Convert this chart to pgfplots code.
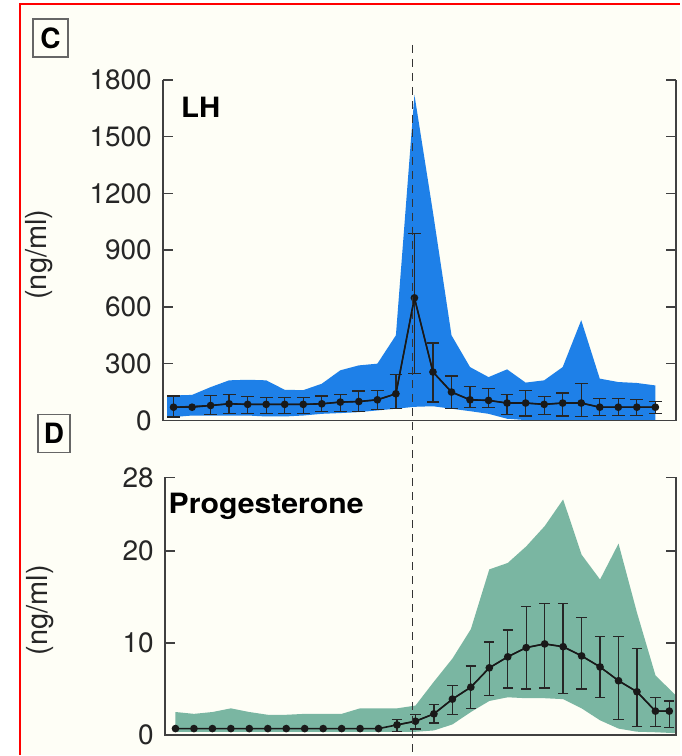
\documentclass[border=0pt]{standalone}
\usepackage{fontspec}
\setmainfont{TeX Gyre Heros}
\usepackage{pgfplots}
\pgfplotsset{compat=1.18}
\usepackage{pgfplotstable}

\definecolor{lhblue}{RGB}{30,128,232}
\definecolor{pgreen}{RGB}{122,182,162}
\definecolor{bg}{RGB}{254,254,246}

\pgfplotstableread{
x y
0 70
1 70
2 79
3 88
4 85
5 85
6 85
7 85
8 88
9 97
10 100
11 109
12 141
13 648
14 256
15 150
16 109
17 106
18 92
19 92
20 85
21 92
22 92
23 70
24 70
25 70
26 70
}\lhmean

\pgfplotstableread{
x y ep em
0 70 59 52
2 79 53 47
3 88 48 53
4 85 42 50
5 85 35 50
6 85 35 50
7 85 35 50
8 88 41 39
9 97 39 48
10 100 55 51
11 109 50 51
12 141 102 79
13 648 340 401
14 256 153 159
15 150 85 88
16 109 71 42
17 106 62 39
18 92 44 60
19 92 67 69
20 85 42 53
21 92 53 69
22 92 102 71
23 70 45 44
24 70 45 44
25 70 40 44
26 70 30 35
}\lherr

% band outline: upper edge left to right, then lower edge right to left
\pgfplotstableread{
x y
-0.35 132
0 132
1 135
2 176
3 212
4 215
5 212
6 162
7 160
8 194
9 265
10 291
11 300
12 450
13 1721
14 1100
15 450
16 282
17 229
18 270
19 200
20 212
21 282
22 530
23 221
24 203
25 198
26 185
26 2
25 2
24 2
23 2
22 2
21 2
20 2
19 2
18 9
17 35
16 49
15 62
14 75
13 72
12 62
11 53
10 44
9 39
8 35
7 26
6 21
5 21
4 26
3 26
2 26
1 26
0 18
-0.35 18
}\lhband

\pgfplotstableread{
x y
0 0.7
1 0.7
2 0.7
3 0.7
4 0.7
5 0.7
6 0.7
7 0.7
8 0.7
9 0.7
10 0.7
11 0.7
12 1.1
13 1.5
14 2.3
15 3.9
16 5.2
17 7.3
18 8.5
19 9.5
20 9.9
21 9.6
22 8.6
23 7.4
24 5.9
25 4.7
26 2.6
26.75 2.6
}\pmean

\pgfplotstableread{
x y ep em
12 1.1 0.6 0.7
13 1.5 0.7 0.85
14 2.3 1.0 1.0
15 3.9 1.5 1.7
16 5.2 2.3 2.3
17 7.3 2.8 3.0
18 8.5 2.9 3.4
19 9.5 4.5 4.5
20 9.9 4.4 4.8
21 9.6 4.7 5.1
22 8.6 4.2 3.6
23 7.4 3.3 3.3
24 5.9 4.8 4.2
25 4.7 4.7 3.8
26 2.6 1.5 1.7
26.75 2.6 1.1 1.8
}\perr

\pgfplotstableread{
x y
0 2.5
1 2.3
2 2.5
3 2.9
4 2.5
5 2.2
6 2.2
7 2.3
8 2.3
9 2.3
10 2.9
11 2.9
12 2.9
13 3.2
14 5.8
15 8.3
16 11.5
17 18.0
18 18.7
19 20.5
20 22.7
21 25.6
22 19.6
23 16.9
24 20.8
25 13.3
26 6.5
27.1 4.3
27.1 0.2
26 0.3
25 0.36
24 0.7
23 1.6
22 2.9
21 3.9
20 4.0
19 4.0
18 4.1
17 3.7
16 2.5
15 1.15
14 0.5
13 0.35
12 0.35
11 0.35
10 0.35
9 0.35
8 0.35
7 0.35
6 0.35
5 0.35
4 0.35
3 0.35
2 0.35
1 0.35
0 0.35
}\pband

\pgfplotsset{
  panel/.style={
    scale only axis,
    axis line style={draw=none},
    clip=false,
    xtick=\empty,
    major tick length=0pt,
    yticklabel style={font=\fontsize{14}{16}\selectfont, text=black!85, xshift=-2pt},
    /pgf/number format/assume math mode=true,
    /pgf/number format/1000 sep={},
    xmin=-0.58, xmax=27.12,
    error bars/error mark=-,
  },
  spineplot/.style={black!75, line width=0.75pt, mark=none, forget plot},
}

\begin{document}
\begin{tikzpicture}
\fill[bg] (0,0) rectangle (340.5pt,378pt);
\fill[white] (0,0) rectangle (10pt,378pt);
\fill[white] (0,376pt) rectangle (340.5pt,378pt);

% ---------- top panel (LH) ----------
\begin{axis}[panel,
  at={(81.5pt,167.5pt)}, anchor=south west,
  width=257pt, height=170.5pt,
  ymin=0, ymax=1800,
  ytick={0,300,600,900,1200,1500,1800},
]
\addplot[fill=lhblue, draw=none] table[x=x,y=y] {\lhband} -- cycle;
\addplot[black!85, line width=0.65pt, mark=none,
  error bars/.cd, y dir=both, y explicit,
  error bar style={line width=0.65pt},
  error mark options={line width=0.65pt, mark size=3.2pt, rotate=90}]
  table[x=x,y=y,y error plus=ep,y error minus=em] {\lherr};
\addplot[black!90, line width=0.8pt, mark=*, mark size=1.5pt,
  mark options={fill=black!90}] table[x=x,y=y] {\lhmean};
% frame (left, bottom, right) and inward ticks
\addplot[spineplot] coordinates {(-0.58,1800) (-0.58,0) (27.12,0) (27.12,1800)};
\addplot[spineplot] coordinates {(-0.58,300) (-0.04,300)};
\addplot[spineplot] coordinates {(-0.58,600) (-0.04,600)};
\addplot[spineplot] coordinates {(-0.58,900) (-0.04,900)};
\addplot[spineplot] coordinates {(-0.58,1200) (-0.04,1200)};
\addplot[spineplot] coordinates {(-0.58,1500) (-0.04,1500)};
\addplot[spineplot] coordinates {(-0.58,1800) (-0.04,1800)};
\addplot[spineplot] coordinates {(26.58,300) (27.12,300)};
\addplot[spineplot] coordinates {(26.58,600) (27.12,600)};
\addplot[spineplot] coordinates {(26.58,900) (27.12,900)};
\addplot[spineplot] coordinates {(26.58,1200) (27.12,1200)};
\addplot[spineplot] coordinates {(26.58,1500) (27.12,1500)};
\addplot[spineplot] coordinates {(26.58,1800) (27.12,1800)};
\end{axis}

% ---------- bottom panel (Progesterone) ----------
\begin{axis}[panel,
  at={(82.5pt,10pt)}, anchor=south west,
  width=256pt, height=129pt,
  ymin=0, ymax=28,
  ytick={0,10,20,28},
]
\addplot[fill=pgreen, draw=none] table[x=x,y=y] {\pband} -- cycle;
\addplot[black!85, line width=0.65pt, mark=none,
  error bars/.cd, y dir=both, y explicit,
  error bar style={line width=0.65pt},
  error mark options={line width=0.65pt, mark size=2.6pt, rotate=90}]
  table[x=x,y=y,y error plus=ep,y error minus=em] {\perr};
\addplot[black!90, line width=0.8pt, mark=*, mark size=1.5pt,
  mark options={fill=black!90}] table[x=x,y=y] {\pmean};
% frame (left, bottom, right) and inward ticks
\addplot[spineplot] coordinates {(-0.58,28) (-0.58,0) (27.12,0) (27.12,28)};
\addplot[spineplot] coordinates {(-0.58,10) (-0.04,10)};
\addplot[spineplot] coordinates {(-0.58,20) (-0.04,20)};
\addplot[spineplot] coordinates {(-0.58,28) (-0.04,28)};
\addplot[spineplot] coordinates {(26.58,10) (27.12,10)};
\addplot[spineplot] coordinates {(26.58,20) (27.12,20)};
\addplot[spineplot] coordinates {(26.58,28) (27.12,28)};
\end{axis}

% dashed reference line
\draw[black!80, line width=0.65pt, dash pattern=on 4pt off 3pt] (206.65pt,355.5pt) -- (206.65pt,0pt);

% labels
\node[anchor=base west, inner sep=0, font=\fontsize{14}{16}\selectfont\bfseries, xscale=1.05] at (90.5pt,319pt) {LH};
\node[anchor=base west, inner sep=0, font=\fontsize{14}{16}\selectfont\bfseries, xscale=1.08] at (84.25pt,121pt) {Progesterone};
\node[rotate=90, inner sep=0, font=\fontsize{14.5}{16}\selectfont, text=black!85] at (19.5pt,250.5pt) {(ng/ml)};
\node[rotate=90, inner sep=0, font=\fontsize{14.5}{16}\selectfont, text=black!85] at (20pt,72.5pt) {(ng/ml)};

% panel letters
\draw[draw=black!60, line width=0.7pt, fill=bg] (16.5pt,349.5pt) rectangle (34pt,368.5pt);
\node[font=\fontsize{14}{16}\selectfont\bfseries] at (25.25pt,359pt) {C};
\draw[draw=black!60, line width=0.7pt, fill=bg] (19pt,151.5pt) rectangle (35pt,170.5pt);
\node[font=\fontsize{14}{16}\selectfont\bfseries] at (27pt,161pt) {D};

% red frame
\draw[red, line width=1pt] (10pt,0pt) -- (10pt,376pt) -- (340.5pt,376pt);
\end{tikzpicture}
\end{document}
